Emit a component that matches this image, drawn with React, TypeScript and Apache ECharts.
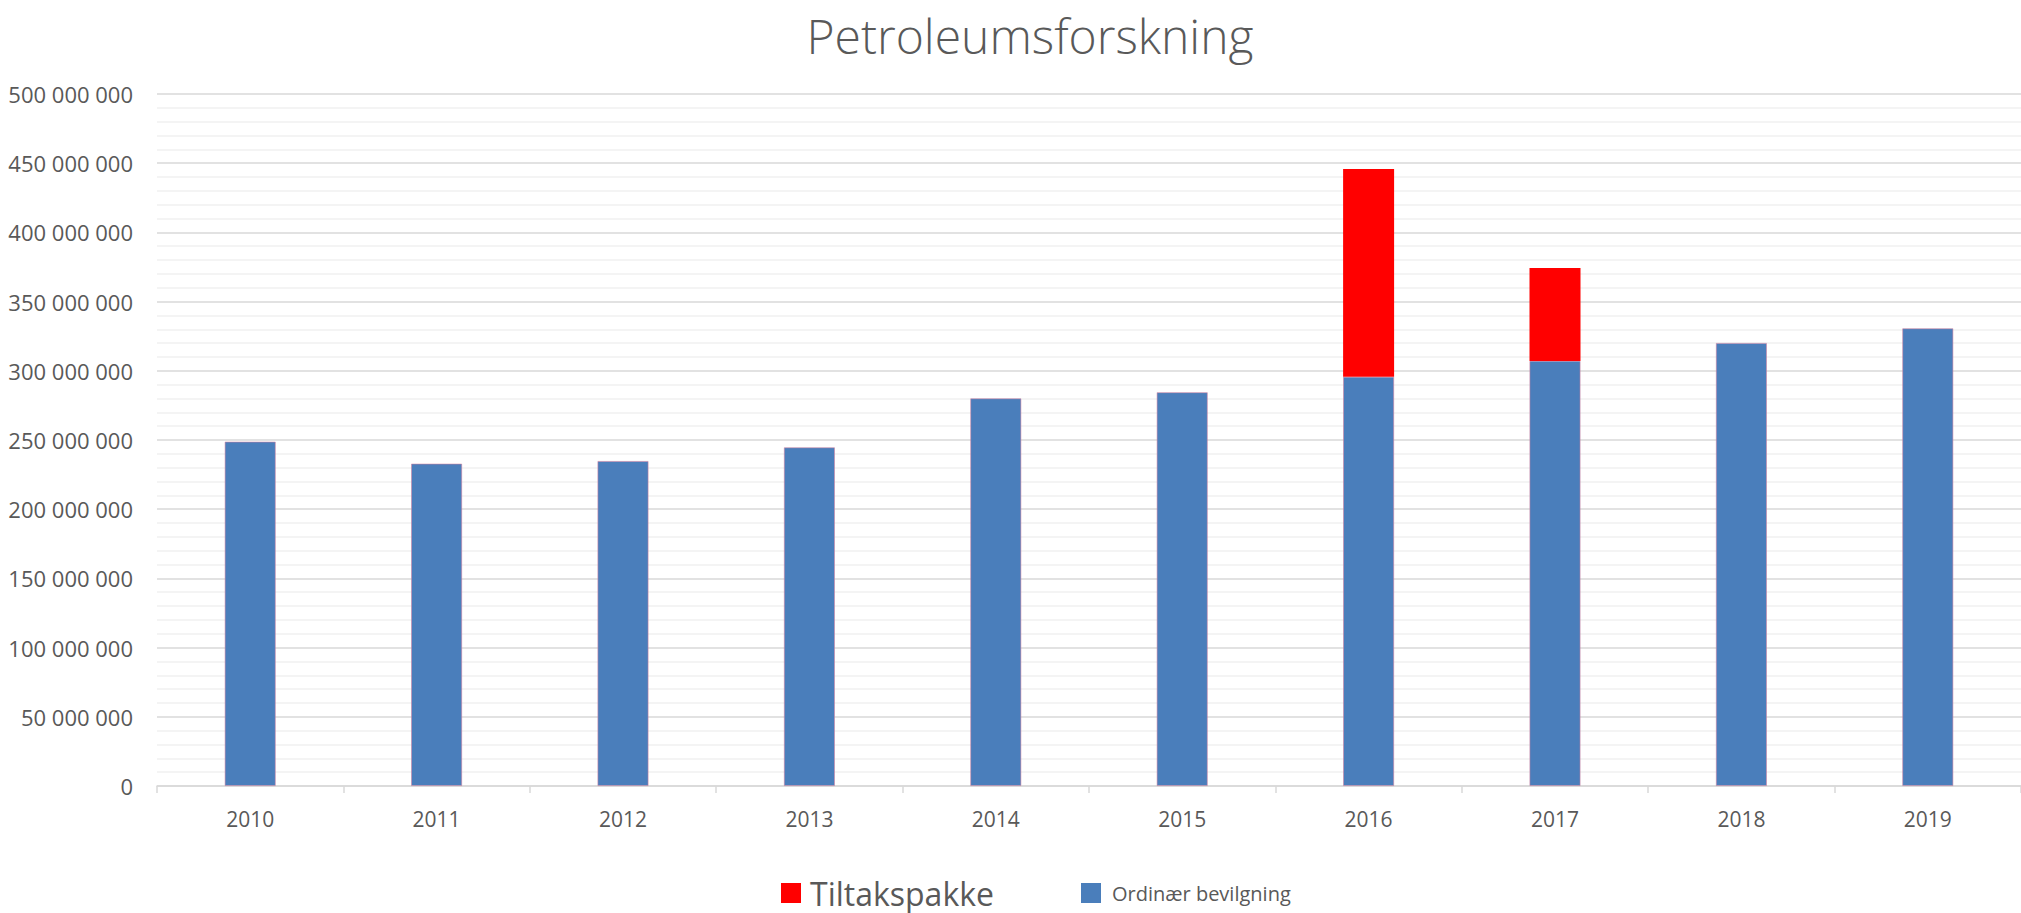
import React, { useEffect, useRef } from "react";
import * as echarts from "echarts";

const years = ["2010", "2011", "2012", "2013", "2014", "2015", "2016", "2017", "2018", "2019"];
const ordinaer = [248.8e6, 232.9e6, 234.8e6, 244.7e6, 280.1e6, 284.5e6, 295.7e6, 307.1e6, 320.1e6, 330.7e6];
const tiltak = [0, 0, 0, 0, 0, 0, 150.1e6, 67.2e6, 0, 0];
const titleText = "Petroleumsforskning";
const nameTiltak = "Tiltakspakke";
const nameOrd = "Ordinær bevilgning";

const fmt = (v: number) => String(Math.round(v)).replace(/\B(?=(\d{3})+(?!\d))/g, " ");

export default function App() {
  const ref = useRef<HTMLDivElement>(null);
  useEffect(() => {
    if (!ref.current) return;
    const chart = echarts.init(ref.current, undefined, { renderer: "svg" });
    const font = "'Open Sans', 'Noto Sans', sans-serif";
    chart.setOption({
      animation: false,
      backgroundColor: "#ffffff",
      title: {
        text: titleText,
        left: 1025,
        top: 0,
        textAlign: "center",
        textStyle: { fontFamily: font, fontSize: 48, fontWeight: 300, color: "#595959", lineHeight: 60 },
      },
      legend: [
        {
          data: [{ name: nameTiltak, textStyle: { fontSize: 32, lineHeight: 32 } }],
          left: 781,
          top: 877,
          padding: 0,
          itemWidth: 20,
          itemHeight: 20,
          icon: "rect",
          itemStyle: { borderWidth: 0 },
          textStyle: { fontFamily: font, color: "#595959", padding: [0, 0, 0, 4] },
        },
        {
          data: [{ name: nameOrd, textStyle: { fontSize: 20, lineHeight: 20 } }],
          left: 1081,
          top: 883,
          padding: 0,
          itemWidth: 20,
          itemHeight: 20,
          icon: "rect",
          itemStyle: { borderWidth: 0 },
          textStyle: { fontFamily: font, color: "#595959", padding: [0, 0, 0, 6] },
        },
      ],
      grid: { left: 157, right: 0, top: 94, bottom: 127, containLabel: false },
      xAxis: {
        type: "category",
        data: years,
        boundaryGap: true,
        axisLine: { lineStyle: { color: "#d9d9d9", width: 1.5 } },
        axisTick: { show: true, length: 7, lineStyle: { color: "#d9d9d9", width: 1.5 } },
        axisLabel: { fontFamily: font, fontSize: 21, color: "#595959", margin: 22 },
      },
      yAxis: {
        type: "value",
        min: 0,
        max: 500e6,
        interval: 50e6,
        axisLine: { show: false },
        axisTick: { show: false },
        axisLabel: { fontFamily: font, fontSize: 22, color: "#595959", margin: 24, formatter: (v: number) => fmt(v) },
        splitLine: { lineStyle: { color: "#d9d9d9", width: 1.5 } },
        minorTick: { show: false, splitNumber: 5 },
        minorSplitLine: { show: true, lineStyle: { color: "#f0f0f0", width: 1.5 } },
      },
      series: [
        {
          name: nameOrd,
          type: "bar",
          stack: "total",
          barWidth: 51,
          data: ordinaer,
          itemStyle: { color: "#4a7ebb", borderColor: "rgba(210,130,160,0.7)", borderWidth: 0.8 },
        },
        {
          name: nameTiltak,
          type: "bar",
          stack: "total",
          barWidth: 51,
          data: tiltak,
          itemStyle: { color: "#ff0000" },
        },
      ],
    });
    return () => chart.dispose();
  }, []);
  return <div ref={ref} style={{ position: "fixed", left: 0, top: 0, width: 2021, height: 913 }} />;
}
